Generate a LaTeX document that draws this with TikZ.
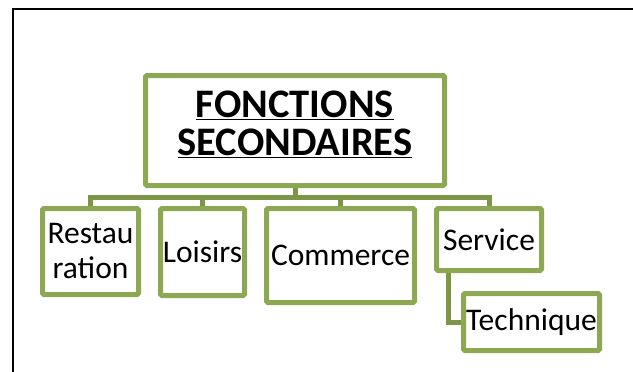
\documentclass[tikz,border=0pt]{standalone}
\usepackage{fontspec}
\setmainfont{Carlito}
\usetikzlibrary{calc, positioning, backgrounds}

\definecolor{boxgreen}{RGB}{140,168,82}
\definecolor{linkgreen}{RGB}{124,150,70}

\begin{document}
\begin{tikzpicture}[x=1pt, y=-1pt,
  fbox/.style={draw=boxgreen, line width=5pt, rounded corners=1.5pt, fill=white,
    inner sep=0pt, align=center, font=\fontsize{31.5}{35}\selectfont},
  link/.style={draw=linkgreen, line width=5pt}]
\pgfmathsetmacro{\yBar}{197.5}
\useasboundingbox (0,0) rectangle (633,372);

\draw[line width=2pt] (13,372) -- (13,8.5) -- (633,8.5);

\node[fbox, minimum width=299pt, minimum height=110pt,
  font=\fontsize{40.5}{36}\selectfont\bfseries] (main) at (295,130.5)
  {\underline{FONCTIONS}\\[2pt]\underline{SECONDAIRES}\rule[-14pt]{0pt}{14pt}};
\node[fbox, minimum width=96pt, minimum height=86pt] (rest) at (90.5,251.5) {Restau\\ration};
\node[fbox, minimum width=84pt, minimum height=87pt] (lois) at (202.5,252) {Loisirs};
\node[fbox, minimum width=148pt, minimum height=94pt] (comm) at (340.5,255.5) {Commerce};
\node[fbox, minimum width=105pt, minimum height=62pt] (serv) at (489,239.5) {Service};
\node[fbox, minimum width=136pt, minimum height=57pt] (tech) at (531.5,322) {Technique};

\coordinate (bar) at (main.south |- 0,\yBar);
\coordinate (barL) at (rest.north |- bar);
\coordinate (barR) at (serv.north |- bar);
\coordinate (servdown) at ($(serv.south west)+(14,0)$);

\begin{pgfonlayer}{background}
\draw[link] (main.south) -- (bar);
\draw[link, line cap=rect] (barL) -- (barR);
\foreach \n in {rest, lois, comm, serv}
  \draw[link] (\n.north |- bar) -- (\n.north);
\draw[link] (servdown) |- (tech.west);
\end{pgfonlayer}
\end{tikzpicture}
\end{document}
